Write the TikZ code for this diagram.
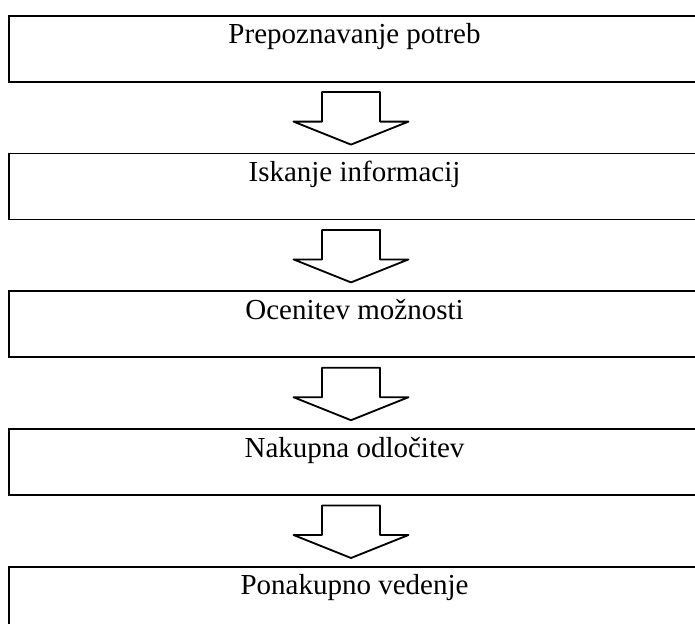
\documentclass[tikz,border=0pt]{standalone}
\usepackage{fontspec}
\setmainfont{Liberation Serif}
\usetikzlibrary{positioning,calc}
\tikzset{
	korak/.style={draw,line width=1.8pt,minimum width=691pt,minimum height=66pt,text height=25pt,text depth=35pt,inner ysep=3pt,font=\fontsize{29}{34}\selectfont},
	blok/.style={draw,line width=1.8pt,line join=round,fill=white}
}
\begin{document}
\begin{tikzpicture}[x=1pt,y=-1pt,node distance=70pt]
	\useasboundingbox (0,0) rectangle (695,623);
	\clip (0,0) rectangle (695,623);
	\node[korak] (potrebe) at (354.5,48.7) {Prepoznavanje potreb};
	\node[korak,below=of potrebe] (iskanje) {Iskanje informacij};
	\node[korak,below=of iskanje] (ocena) {Ocenitev možnosti};
	\node[korak,below=of ocena] (odlocitev) {Nakupna odločitev};
	\node[korak,below=of odlocitev] (vedenje) {Ponakupno vedenje};
	\foreach \a/\b in {potrebe/iskanje,iskanje/ocena,ocena/odlocitev,odlocitev/vedenje}
		\draw[blok] ($(\a.south)+(-32.5,9.5)$) -- ($(\a.south)+(25.5,9.5)$) -- ($(\a.south)+(25.5,39)$) -- ($(\a.south)+(54,39)$) -- ($(\b.north)+(-3.5,-8)$) -- ($(\a.south)+(-61,39)$) -- ($(\a.south)+(-32.5,39)$) -- cycle;
\end{tikzpicture}
\end{document}
